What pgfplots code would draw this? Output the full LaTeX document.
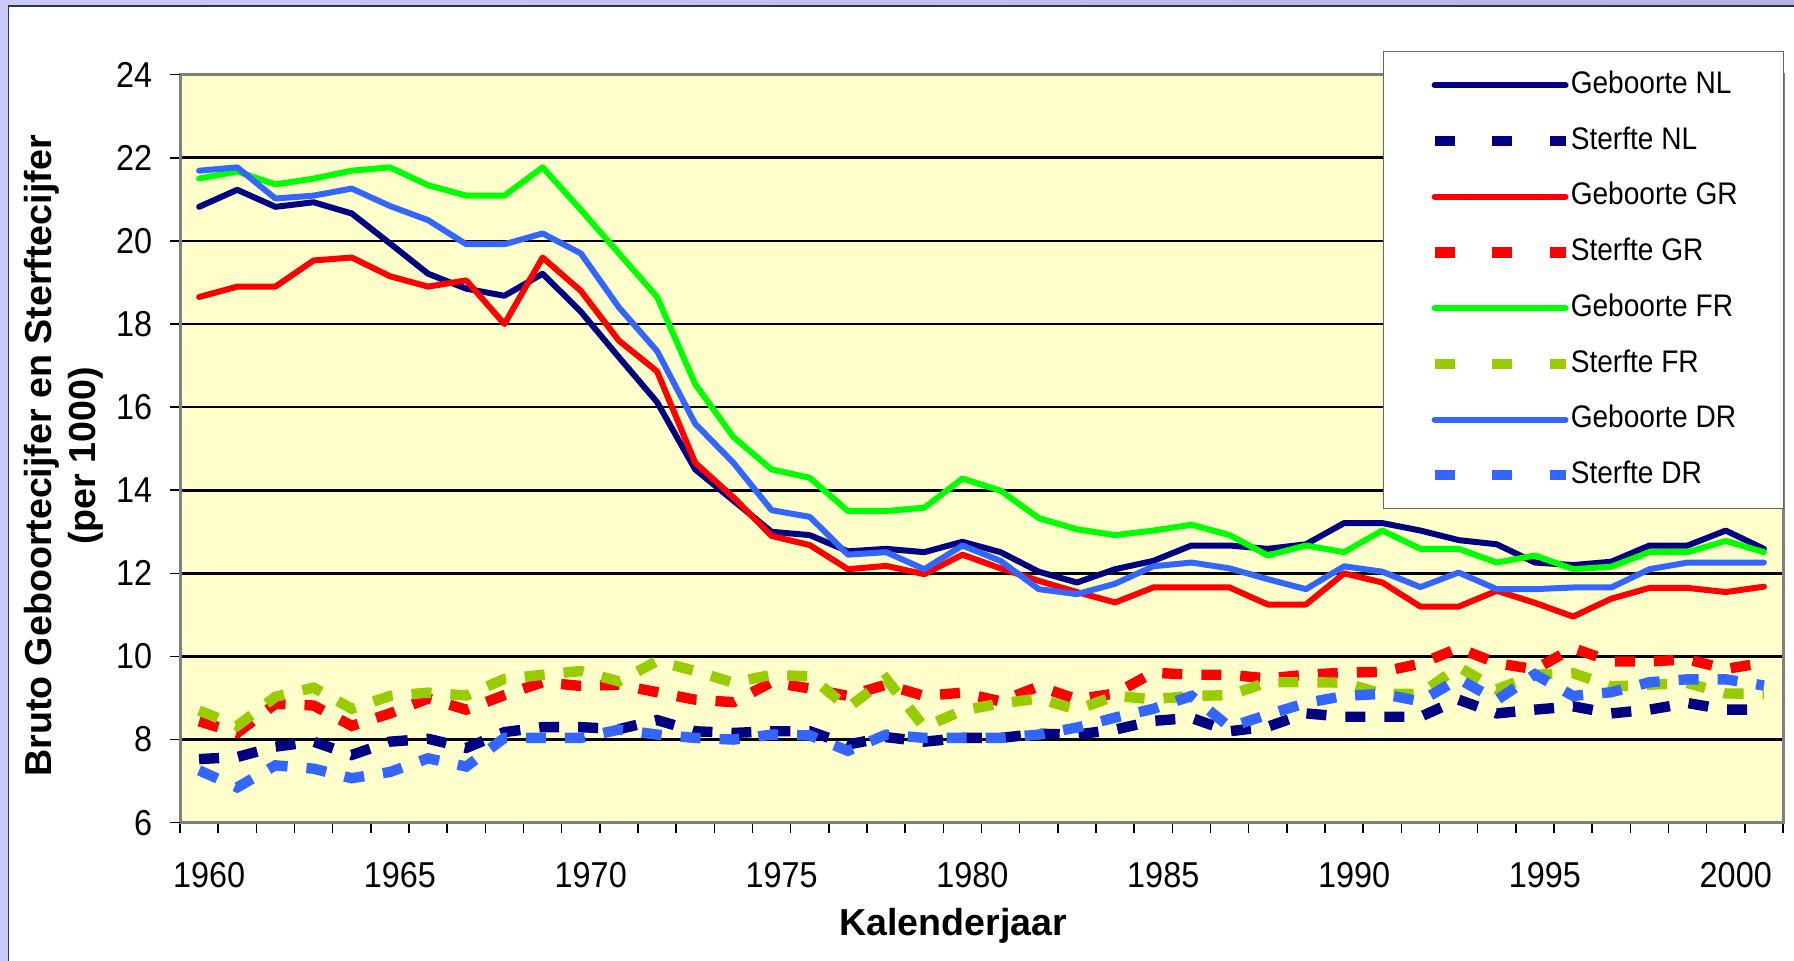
\documentclass[border=0pt]{standalone}
\usepackage{pgfplots}
\pgfplotsset{compat=1.18}
\usepackage{pgfplotstable}
\usepackage{fontspec}
\setmainfont{Liberation Sans}
\newfontfamily\narrowfont[FakeStretch=0.9]{Liberation Sans}
\definecolor{cNL}{HTML}{000080}
\definecolor{cGR}{HTML}{FF0000}
\definecolor{cFR}{HTML}{00FF00}
\definecolor{cFRs}{HTML}{99CC00}
\definecolor{cDR}{HTML}{3366FF}
\definecolor{bgyel}{HTML}{FFFFCC}
\definecolor{bgmid}{HTML}{FFFFFC}
\definecolor{lavL}{RGB}{202,202,250}
\definecolor{lavR}{RGB}{178,178,228}

\pgfplotstableread{
year gNL sNL gGR sGR gFR sFR gDR sDR
1960 20.82 7.53 18.65 8.44 21.50 8.70 21.69 7.26
1961 21.23 7.58 18.90 8.16 21.67 8.33 21.77 6.85
1962 20.82 7.83 18.90 8.86 21.36 9.03 21.02 7.38
1963 20.93 7.95 19.53 8.82 21.50 9.25 21.09 7.30
1964 20.66 7.63 19.60 8.33 21.69 8.74 21.26 7.07
1965 19.94 7.95 19.15 8.63 21.77 9.05 20.84 7.22
1966 19.21 8.02 18.90 8.99 21.34 9.13 20.50 7.55
1967 18.85 7.80 19.05 8.72 21.09 9.06 19.92 7.35
1968 18.68 8.18 18.00 9.07 21.09 9.46 19.92 8.04
1969 19.21 8.30 19.60 9.38 21.77 9.56 20.18 8.04
1970 18.30 8.30 18.80 9.29 20.75 9.65 19.70 8.04
1971 17.20 8.25 17.60 9.32 19.70 9.40 18.40 8.24
1972 16.12 8.47 16.86 9.14 18.65 9.89 17.35 8.12
1973 14.50 8.20 14.66 8.96 16.55 9.65 15.60 8.04
1974 13.75 8.16 13.83 8.90 15.28 9.37 14.66 8.00
1975 13.00 8.20 12.90 9.38 14.50 9.56 13.52 8.12
1976 12.92 8.20 12.68 9.23 14.30 9.52 13.36 8.10
1977 12.53 7.88 12.10 9.05 13.50 8.77 12.45 7.73
1978 12.59 8.06 12.18 9.32 13.50 9.46 12.51 8.12
1979 12.51 7.95 11.98 9.05 13.58 8.30 12.10 8.04
1980 12.76 8.04 12.45 9.13 14.28 8.70 12.67 8.04
1981 12.51 8.04 12.12 8.92 13.99 8.87 12.30 8.04
1982 12.04 8.14 11.82 9.28 13.33 8.99 11.62 8.12
1983 11.78 8.12 11.55 8.97 13.06 8.72 11.50 8.29
1984 12.10 8.24 11.30 9.11 12.92 9.05 11.75 8.53
1985 12.30 8.45 11.66 9.61 13.03 8.97 12.17 8.74
1986 12.67 8.52 11.66 9.56 13.17 9.05 12.26 9.05
1987 12.67 8.20 11.66 9.56 12.92 9.07 12.12 8.30
1988 12.59 8.31 11.25 9.47 12.43 9.38 11.86 8.60
1989 12.70 8.63 11.25 9.56 12.67 9.38 11.62 8.88
1990 13.21 8.55 12.00 9.61 12.51 9.37 12.17 9.05
1991 13.21 8.55 11.78 9.63 13.03 9.10 12.04 9.10
1992 13.03 8.55 11.20 9.83 12.59 9.10 11.67 8.92
1993 12.80 8.96 11.20 10.20 12.59 9.75 12.02 9.46
1994 12.70 8.63 11.58 9.84 12.26 9.21 11.62 8.95
1995 12.26 8.72 11.29 9.69 12.43 9.56 11.62 9.57
1996 12.20 8.80 10.96 10.20 12.10 9.60 11.66 9.05
1997 12.28 8.63 11.39 9.88 12.16 9.28 11.66 9.14
1998 12.67 8.72 11.65 9.88 12.51 9.32 12.10 9.38
1999 12.67 8.88 11.65 9.93 12.51 9.36 12.26 9.45
2000 13.03 8.72 11.55 9.70 12.78 9.11 12.26 9.45
2001 12.59 8.72 11.68 9.85 12.51 9.10 12.26 9.30
}\data

\pgfplotsset{
  geb/.style={line width=1.5pt, line join=round, line cap=round},
  ster/.style={line width=2.6pt, line cap=butt, line join=miter, dash pattern=on 5pt off 4.75pt,
    legend image post style={dash pattern=on 5pt off 9.4pt}},
}

\begin{document}
\begin{tikzpicture}
\path[use as bounding box] (0,0) rectangle (448.5pt,240.25pt);
\shade[left color=lavL, right color=lavR] (0,0) rectangle (448.5pt,240.25pt);
\filldraw[fill=white, draw=black!80, line width=0.45pt] (2.1pt,-3pt) rectangle (452pt,238.75pt);
\begin{axis}[
  at={(45pt,34.575pt)}, anchor=south west,
  scale only axis, width=400.75pt, height=187pt,
  xmin=1959.5, xmax=2001.5, ymin=6, ymax=24,
  xtick={1960,1965,...,2000},
  minor xtick={1959.5,1960.5,...,2001.5},
  ytick={8,10,...,22},
  extra y ticks={6,24},
  extra y tick style={grid=none},
  ymajorgrids,
  major grid style={black, line width=0.65pt},
  tick align=outside, xtick pos=bottom, ytick pos=left,
  major tick length=2.5pt, minor tick length=2.5pt,
  major x tick style={draw=none},
  minor x tick style={black, line width=0.4pt},
  major y tick style={black, line width=0.4pt},
  axis line style={draw=gray, line width=0.75pt},
  axis background/.style={top color=bgyel, middle color=bgmid, bottom color=bgyel},
  tick label style={font=\narrowfont\fontsize{9}{10}\selectfont},
  /pgf/number format/assume math mode=true,
  x tick label style={/pgf/number format/1000 sep={}, anchor=north, inner sep=0pt, xshift=2.5pt, yshift=-7.25pt},
  y tick label style={anchor=east, inner sep=0pt, xshift=-4.25pt},
  legend cell align=left,
  legend style={at={(axis description cs:0.7505,1.0316)}, anchor=north west,
    draw=black!60, line width=0.35pt, fill=white,
    inner xsep=11.4pt, inner ysep=1.4pt, row sep=0pt, column sep=0pt,
    font=\narrowfont\fontsize{7.8}{9}\selectfont,
    nodes={inner sep=0pt, minimum height=13.93pt}},
  legend image code/.code={\draw[#1] (0pt,0pt) -- (32.75pt,0pt);},
  no markers,
]
\addplot[geb, cNL] table[x=year,y=gNL]{\data};
\addlegendentry{Geboorte NL}
\addplot[ster, cNL] table[x=year,y=sNL]{\data};
\addlegendentry{Sterfte NL}
\addplot[geb, cGR] table[x=year,y=gGR]{\data};
\addlegendentry{Geboorte GR}
\addplot[ster, cGR] table[x=year,y=sGR]{\data};
\addlegendentry{Sterfte GR}
\addplot[geb, cFR] table[x=year,y=gFR]{\data};
\addlegendentry{Geboorte FR}
\addplot[ster, cFRs] table[x=year,y=sFR]{\data};
\addlegendentry{Sterfte FR}
\addplot[geb, cDR] table[x=year,y=gDR]{\data};
\addlegendentry{Geboorte DR}
\addplot[ster, cDR] table[x=year,y=sDR]{\data};
\addlegendentry{Sterfte DR}
\end{axis}
\node[rotate=90, align=center, font=\bfseries\fontsize{9.4}{11}\selectfont] at (16pt,126.25pt)
  {Bruto Geboortecijfer en Sterftecijfer\\(per 1000)};
\node[font=\bfseries\fontsize{9.4}{11}\selectfont] at (238.25pt,8.75pt) {Kalenderjaar};
\end{tikzpicture}
\end{document}
